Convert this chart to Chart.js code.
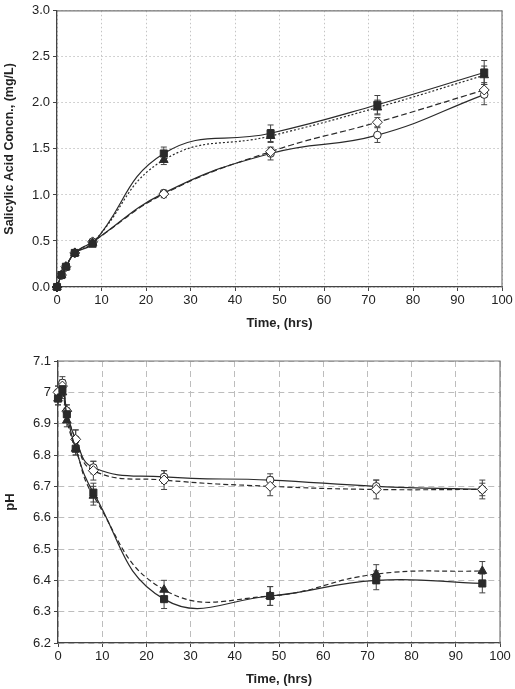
<!DOCTYPE html>
<html>
<head>
<meta charset="utf-8">
<script src="https://cdn.jsdelivr.net/npm/chart.js@4/dist/chart.umd.min.js"></script>
<style>
  body { margin: 0; background: #fff; }
  #wrap { position: relative; width: 515px; height: 689px; }
  canvas { position: absolute; left: 0; }
  #saChart { top: 0; }
  #phChart { top: 340px; }
</style>
</head>
<body>
<div id="wrap">
  <canvas id="saChart" width="515" height="340"></canvas>
  <canvas id="phChart" width="515" height="349"></canvas>
</div>
<script>
// sampling times (hrs)
const timeHrs = [0, 1, 2, 4, 8, 24, 48, 72, 96];

// salicylic acid concn (mg/L), top panel
const saSquare      = [0, 0.13, 0.22, 0.37, 0.47, 1.45, 1.67, 1.98, 2.33];
const saSquareErr   = [0, 0.02, 0.02, 0.03, 0.03, 0.07, 0.09, 0.10, 0.13];
const saTriangle    = [0, 0.13, 0.22, 0.37, 0.48, 1.38, 1.64, 1.95, 2.30];
const saTriangleErr = [0, 0.02, 0.02, 0.03, 0.03, 0.05, 0.07, 0.08, 0.10];
const saDiamond     = [0, 0.13, 0.22, 0.37, 0.49, 1.01, 1.47, 1.79, 2.14];
const saDiamondErr  = [0, 0.02, 0.02, 0.02, 0.03, 0.04, 0.04, 0.05, 0.08];
const saCircle      = [0, 0.13, 0.22, 0.37, 0.49, 1.02, 1.45, 1.65, 2.09];
const saCircleErr   = [0, 0.02, 0.02, 0.02, 0.03, 0.03, 0.07, 0.08, 0.11];

// pH, bottom panel
const phSquare      = [6.98, 7.01, 6.93, 6.82, 6.68, 6.34, 6.35, 6.40, 6.39];
const phSquareErr   = [0.02, 0.02, 0.02, 0.02, 0.03, 0.03, 0.03, 0.03, 0.03];
const phTriangle    = [6.98, 7.00, 6.91, 6.82, 6.67, 6.37, 6.35, 6.42, 6.43];
const phTriangleErr = [0.02, 0.02, 0.02, 0.02, 0.03, 0.03, 0.03, 0.03, 0.03];
const phDiamond     = [7.00, 7.02, 6.94, 6.85, 6.75, 6.72, 6.70, 6.69, 6.69];
const phDiamondErr  = [0.02, 0.02, 0.02, 0.03, 0.03, 0.03, 0.03, 0.03, 0.03];
const phCircle      = [7.00, 7.03, 6.94, 6.85, 6.76, 6.73, 6.72, 6.70, 6.69];
const phCircleErr   = [0.02, 0.02, 0.02, 0.03, 0.02, 0.02, 0.02, 0.02, 0.02];

const saTitleX = 'Time, (hrs)';
const saTitleY = 'Salicylic Acid Concn., (mg/L)';
const phTitleY = 'pH';

const ink = '#2a2a2a';
const fontFamily = '"Liberation Sans", Arial, Helvetica, sans-serif';

function pts(ys) {
  return timeHrs.map((t, i) => ({ x: t, y: ys[i] }));
}

function series(ys, errs, style, filled, dash, radius) {
  return {
    data: pts(ys),
    errors: errs,
    borderColor: ink,
    borderWidth: 1.2,
    borderDash: dash,
    pointStyle: style,
    pointRadius: radius,
    pointBorderWidth: 1,
    pointBorderColor: ink,
    pointBackgroundColor: filled ? ink : '#fff',
    tension: 0.45,
    clip: false,
    fill: false
  };
}

// vertical error bars, drawn under the markers
const errorBars = {
  id: 'errorBars',
  beforeDatasetsDraw(chart) {
    const ctx = chart.ctx;
    const xs = chart.scales.x, ys = chart.scales.y;
    ctx.save();
    ctx.strokeStyle = '#444';
    ctx.lineWidth = 1;
    chart.data.datasets.forEach(ds => {
      ds.data.forEach((p, i) => {
        const e = ds.errors[i];
        if (!e) return;
        const x = xs.getPixelForValue(p.x);
        const y1 = ys.getPixelForValue(p.y - e);
        const y2 = ys.getPixelForValue(p.y + e);
        ctx.beginPath();
        ctx.moveTo(x, y1); ctx.lineTo(x, y2);
        ctx.moveTo(x - 3, y1); ctx.lineTo(x + 3, y1);
        ctx.moveTo(x - 3, y2); ctx.lineTo(x + 3, y2);
        ctx.stroke();
      });
    });
    ctx.restore();
  }
};

// top and right edges of the plot box
const frame = {
  id: 'frame',
  beforeDatasetsDraw(chart) {
    const a = chart.chartArea, ctx = chart.ctx;
    ctx.save();
    ctx.strokeStyle = '#777';
    ctx.lineWidth = 1.2;
    ctx.beginPath();
    ctx.moveTo(a.left, a.top);
    ctx.lineTo(a.right, a.top);
    ctx.lineTo(a.right, a.bottom);
    ctx.stroke();
    ctx.restore();
  }
};

function makeOptions(cfg) {
  return {
    responsive: false,
    animation: false,
    devicePixelRatio: 1,
    layout: { padding: cfg.padding },
    plugins: { legend: { display: false }, tooltip: { enabled: false } },
    scales: {
      x: {
        type: 'linear',
        min: 0, max: 100,
        afterFit: s => { s.height = cfg.xHeight; },
        border: { color: '#444', width: 1.3, dash: cfg.dash },
        grid: { color: cfg.gridColor, tickColor: '#444', tickLength: 4, drawTicks: true },
        ticks: { stepSize: 10, padding: 2, color: '#222', font: { family: fontFamily, size: 13 } },
        title: {
          display: true, text: saTitleX, color: '#222',
          font: { family: fontFamily, size: 13, weight: 'bold' },
          padding: { top: 0, bottom: cfg.xTitlePad }
        }
      },
      y: {
        min: cfg.yMin, max: cfg.yMax,
        afterFit: s => { s.width = cfg.yWidth; },
        border: { color: '#444', width: 1.3, dash: cfg.dash },
        grid: { color: cfg.gridColor, tickColor: '#444', tickLength: 4, drawTicks: true },
        ticks: {
          stepSize: cfg.yStep, padding: 3, color: '#222',
          font: { family: fontFamily, size: 13 },
          callback: cfg.yFormat
        },
        title: {
          display: true, text: cfg.yTitle, color: '#222',
          font: { family: fontFamily, size: cfg.yTitleSize, weight: 'bold' },
          padding: { top: cfg.yTitlePad, bottom: 0 }
        }
      }
    }
  };
}

new Chart(document.getElementById('saChart'), {
  type: 'line',
  data: {
    datasets: [
      series(saSquare, saSquareErr, 'rect', true, [], 5),
      series(saTriangle, saTriangleErr, 'triangle', true, [2, 2], 5),
      series(saDiamond, saDiamondErr, 'rectRot', false, [6, 3], 5),
      series(saCircle, saCircleErr, 'circle', false, [], 3.8)
    ]
  },
  options: makeOptions({
    padding: { top: 10, right: 13, bottom: 0, left: 0 },
    xHeight: 53, yWidth: 57,
    xTitlePad: 9, yTitlePad: 2,
    yMin: 0, yMax: 3, yStep: 0.5,
    yTitle: saTitleY, yTitleSize: 12.5,
    gridColor: '#c4c4c4', dash: [1.5, 2.5],
    yFormat: v => Number(v).toFixed(1)
  }),
  plugins: [frame, errorBars]
});

new Chart(document.getElementById('phChart'), {
  type: 'line',
  data: {
    datasets: [
      series(phSquare, phSquareErr, 'rect', true, [], 5),
      series(phTriangle, phTriangleErr, 'triangle', true, [5, 3], 5),
      series(phDiamond, phDiamondErr, 'rectRot', false, [5, 3], 5),
      series(phCircle, phCircleErr, 'circle', false, [], 3.8)
    ]
  },
  options: makeOptions({
    padding: { top: 21, right: 15, bottom: 0, left: 0 },
    xHeight: 46, yWidth: 58,
    xTitlePad: 2, yTitlePad: 3,
    yMin: 6.2, yMax: 7.1, yStep: 0.1,
    yTitle: phTitleY, yTitleSize: 13,
    gridColor: '#bdbdbd', dash: [6, 4],
    yFormat: v => String(Number(Number(v).toFixed(1)))
  }),
  plugins: [frame, errorBars]
});
</script>
</body>
</html>
